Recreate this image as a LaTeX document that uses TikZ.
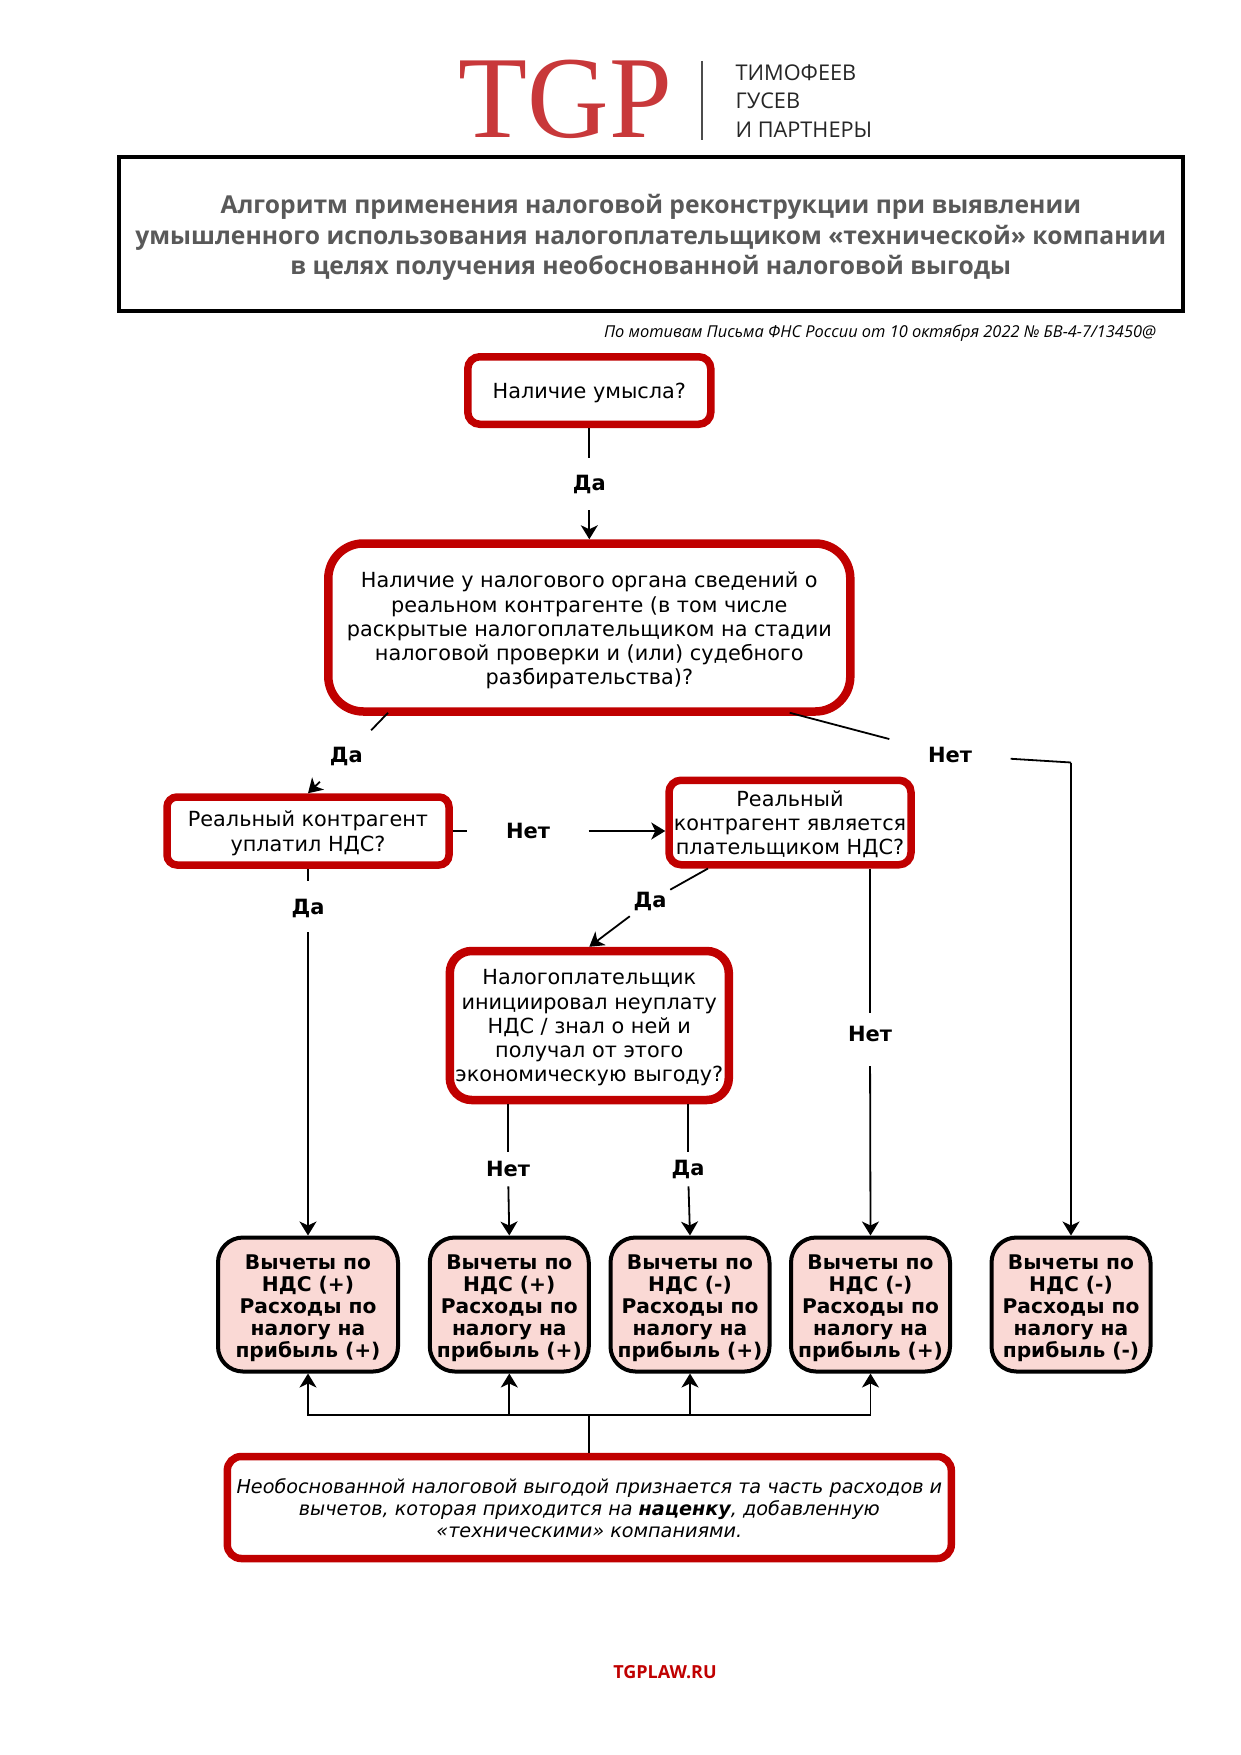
\documentclass[tikz,border=0pt]{standalone}
\usepackage{fontspec}
\usetikzlibrary{arrows.meta}
\setmainfont{DejaVu Sans}
\newfontfamily\headf{Open Sans}
\newfontfamily\logof{Liberation Serif}
\definecolor{rd}{HTML}{C00000}
\definecolor{pinkf}{HTML}{FAD9D5}
\definecolor{titlegray}{HTML}{595959}
\definecolor{logored}{HTML}{C8383A}
\newcommand\nudged[2]{\raisebox{-#1pt}[\height][\depth]{\begin{tabular}{@{}c@{}}#2\end{tabular}}}
\tikzset{
  q/.style={draw=rd,fill=white,line width=7.5pt,inner sep=0pt,font=\fontsize{20.8}{24.3}\selectfont},
  res/.style={draw=black,fill=pinkf,line width=4pt,inner sep=0pt,rounded corners=25pt,minimum height=134pt,font=\fontsize{20.2}{22}\selectfont\bfseries},
  lab/.style={inner sep=0pt,font=\fontsize{21}{22}\selectfont\bfseries},
  conn/.style={line width=1.8pt,black},
  arr/.style={conn,-{Stealth[length=14pt,width=17pt,inset=4pt]}}
}
\begin{document}
\begin{tikzpicture}[x=1pt,y=-1pt]
\useasboundingbox[fill=white] (0,0) rectangle (1241,1755);
% logo
\node[logored,inner sep=0pt] (logo) at (565.5,99.5) {\logof\fontsize{117}{117}\selectfont\scalebox{.965}[1]{TGP}};
\coordinate (divt) at (702,61);
\coordinate (divb) at (702,140);
\draw[line width=1.2pt,black!70] (divt) -- (divb);
\node[anchor=west,inner sep=0pt,text=black!85] (lg1) at (735.5,73) {\headf\fontsize{21.7}{24}\selectfont ТИМОФЕЕВ};
\node[anchor=west,inner sep=0pt,text=black!85] (lg2) at (735.5,101) {\headf\fontsize{21.7}{24}\selectfont ГУСЕВ};
\node[anchor=west,inner sep=0pt,text=black!85] (lg3) at (735.5,130) {\headf\fontsize{21.7}{24}\selectfont И ПАРТНЕРЫ};
% header
\node[draw=black,line width=4pt,minimum width=1064pt,minimum height=154pt,inner sep=0pt,text=titlegray,font=\headf\fontsize{24.65}{30.5}\selectfont\bfseries] (head) at (650.8,234) {\nudged{4}{Алгоритм применения налоговой реконструкции при выявлении\\умышленного использования налогоплательщиком «технической» компании\\в целях получения необоснованной налоговой выгоды}};
\node[inner sep=0pt,font=\headf\fontsize{16.4}{20}\selectfont\itshape] (src) at (880,333.5) {По мотивам Письма ФНС России от 10 октября 2022 № БВ-4-7/13450@};
% questions
\node[q,minimum width=243pt,minimum height=67.5pt,rounded corners=12pt] (n1) at (589.3,390.5) {\nudged{3}{Наличие умысла?}};
\node[q,line width=8.5pt,minimum width=522pt,minimum height=168pt,rounded corners=35pt] (n2) at (589.3,627.5) {\nudged{4}{Наличие у налогового органа сведений о\\реальном контрагенте (в том числе\\раскрытые налогоплательщиком на стадии\\налоговой проверки и (или) судебного\\разбирательства)?}};
\node[q,minimum width=282pt,minimum height=68pt,rounded corners=10pt] (n3) at (308,831) {\nudged{3}{Реальный контрагент\\уплатил НДС?}};
\node[q,minimum width=242pt,minimum height=84.5pt,rounded corners=12pt] (n4) at (790,822.5) {\nudged{3}{Реальный\\контрагент является\\плательщиком НДС?}};
\node[q,line width=8.5pt,minimum width=279pt,minimum height=149pt,rounded corners=22pt] (n5) at (589.3,1025.5) {\nudged{3}{Налогоплательщик\\инициировал неуплату\\НДС / знал о ней и\\получал от этого\\экономическую выгоду?}};
% results
\node[res,minimum width=180pt] (b1) at (308,1304.5) {\nudged{4.5}{Вычеты по\\НДС (+)\\Расходы по\\налогу на\\прибыль (+)}};
\node[res,minimum width=159pt] (b2) at (509.3,1304.5) {\nudged{4.5}{Вычеты по\\НДС (+)\\Расходы по\\налогу на\\прибыль (+)}};
\node[res,minimum width=159pt] (b3) at (690,1304.5) {\nudged{4.5}{Вычеты по\\НДС (-)\\Расходы по\\налогу на\\прибыль (+)}};
\node[res,minimum width=159pt] (b4) at (870.5,1304.5) {\nudged{4.5}{Вычеты по\\НДС (-)\\Расходы по\\налогу на\\прибыль (+)}};
\node[res,minimum width=159pt] (b5) at (1071,1304.5) {\nudged{4.5}{Вычеты по\\НДС (-)\\Расходы по\\налогу на\\прибыль (-)}};
\node[q,minimum width=724pt,minimum height=102pt,rounded corners=14pt,font=\fontsize{19.2}{22}\selectfont\itshape] (n6) at (589.3,1507.5) {\nudged{4}{Необоснованной налоговой выгодой признается та часть расходов и\\вычетов, которая приходится на \textbf{наценку}, добавленную\\«техническими» компаниями.}};
\node[inner sep=0pt,text=rd,font=\headf\fontsize{18}{20}\selectfont\bfseries] (site) at (665,1672) {TGPLAW.RU};
% labels
\node[lab,minimum height=52pt] (l1) at (589.3,484) {Да};
\node[lab,minimum width=60pt,minimum height=51pt] (l2) at (346.4,756) {Да};
\node[lab,minimum width=121pt,minimum height=60pt] (l3) at (950,755) {Нет};
\node[lab,minimum width=121pt,minimum height=30pt] (l4) at (528,831) {Нет};
\node[lab,minimum height=51pt] (l5) at (308,906.5) {\raisebox{-1.5pt}[\height][\depth]{Да}};
\node[lab,minimum width=40pt,minimum height=40pt] (l6) at (650,901) {Да};
\node[lab,minimum height=52.6pt] (l7) at (870,1039.5) {\raisebox{5.5pt}[\height][\depth]{Нет}};
\node[lab,minimum height=34.5pt] (l8) at (508,1169) {Нет};
\node[lab,minimum height=34.5pt] (l9) at (688,1169) {Да};
\coordinate (corner) at (1071,762.5);
\coordinate (bus) at (589.3,1415);
% connectors
\draw[conn] (n1.south) -- (l1);
\draw[arr] (l1) -- (n2.north);
\draw[conn] ([xshift=-201.3pt,yshift=3pt]n2.south) -- (l2);
\draw[arr] (l2) -- (n3.north);
\draw[conn] ([xshift=200.4pt,yshift=3pt]n2.south) -- (l3);
\draw[conn] (l3) -- (corner);
\draw[arr] (corner) -- (b5.north);
\draw[conn] (n3.east) -- (l4);
\draw[arr] (l4) -- (l4 -| n4.west);
\draw[conn] (n3.south) -- (l5);
\draw[arr] (l5) -- (b1.north);
\draw[conn] ([xshift=-82pt]n4.south) -- (l6);
\draw[arr] (l6) -- (n5.north);
\draw[conn] ([xshift=80pt]n4.south) -- (l7);
\draw[arr] (l7) -- (b4.north);
\draw[conn] (n5.south -| l8) -- (l8);
\draw[arr] (l8) -- (b2.north);
\draw[conn] (n5.south -| l9) -- (l9);
\draw[arr] (l9) -- (b3.north);
\draw[conn] (n6.north) -- (bus);
\draw[arr] (bus) -| (b1.south);
\draw[arr] (bus) -| (b2.south);
\draw[arr] (bus) -| (b3.south);
\draw[arr] (bus) -| (b4.south);
\end{tikzpicture}
\end{document}
